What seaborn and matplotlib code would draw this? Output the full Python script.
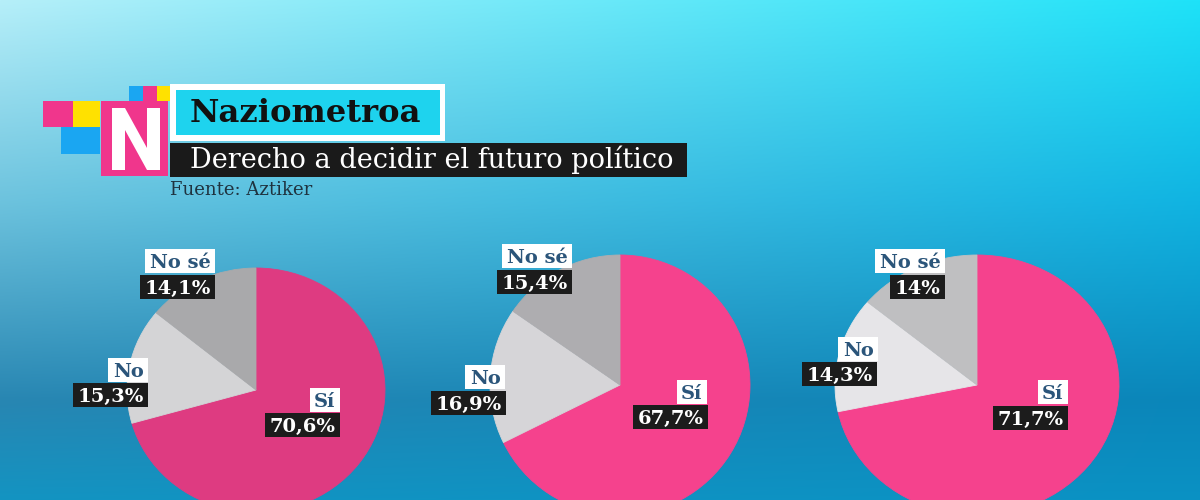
import numpy as np
import matplotlib
matplotlib.use("Agg")
import matplotlib.pyplot as plt
from matplotlib.patches import Rectangle, Polygon
import seaborn as sns

sns.set_theme(style="white")

# ---------------- data ----------------
categories = ["Sí", "No", "No sé"]
pie1_values = [70.6, 15.3, 14.1]
pie2_values = [67.7, 16.9, 15.4]
pie3_values = [71.7, 14.3, 14.0]
title_text = "Naziometroa"
subtitle_text = "Derecho a decidir el futuro político"
source_text = "Fuente: Aztiker"

all_values = [pie1_values, pie2_values, pie3_values]

# ---------------- style / layout ----------------
W, H = 1200, 500
pie_colors = [
    ["#DE3B81", "#D4D4D6", "#A9A9AB"],
    ["#F5428D", "#D6D5D8", "#AEADB0"],
    ["#F5428D", "#E6E5E8", "#BFBFC1"],
]
# (cx, cy, rx, ry) in pixels
pie_geom = [(256, 390, 129, 122), (620, 385, 130, 130), (977, 385, 142, 130)]
# label anchors: category -> (cat_right, cat_cy, pct_right, pct_cy)
label_pos = [
    {"No sé": (215, 261, 215, 287), "No": (148, 370, 148, 395), "Sí": (340, 400, 340, 425)},
    {"No sé": (572, 256, 572, 282), "No": (505, 377, 506, 403), "Sí": (707, 392, 708, 417)},
    {"No sé": (945, 261, 945, 287), "No": (878, 349, 877, 374), "Sí": (1068, 392, 1068, 418)},
]

fig = plt.figure(figsize=(12, 5), dpi=100)
renderer = fig.canvas.get_renderer()

# background gradient
def hex2rgb(h):
    h = h.lstrip("#")
    return np.array([int(h[i:i + 2], 16) for i in (0, 2, 4)]) / 255.0

rows = np.array([0, 200, 400, 500])
left_cols = np.array([hex2rgb(c) for c in ["#B6EFF9", "#6DC3DE", "#2886B2", "#1394C2"]])
right_cols = np.array([hex2rgb(c) for c in ["#1EE2F8", "#10B4E2", "#0A86BA", "#0A92C4"]])
yy = np.arange(H)
L = np.stack([np.interp(yy, rows, left_cols[:, k]) for k in range(3)], axis=1)
R = np.stack([np.interp(yy, rows, right_cols[:, k]) for k in range(3)], axis=1)
t = np.linspace(0, 1, W)[None, :, None]
img = L[:, None, :] * (1 - t) + R[:, None, :] * t

ax_bg = fig.add_axes([0, 0, 1, 1])
ax_bg.imshow(img, extent=(0, W, H, 0), aspect="auto", interpolation="bilinear")
ax_bg.set_xlim(0, W)
ax_bg.set_ylim(H, 0)
ax_bg.axis("off")

# pies
for vals, cols, (cx, cy, rx, ry) in zip(all_values, pie_colors, pie_geom):
    pax = fig.add_axes([(cx - rx) / W, (H - cy - ry) / H, 2 * rx / W, 2 * ry / H])
    pax.pie(vals, colors=cols, startangle=90, counterclock=False, radius=1,
            wedgeprops=dict(linewidth=0.6))
    for w, c in zip(pax.patches, cols):
        w.set_edgecolor(c)
    pax.set_aspect("auto")
    pax.set_xlim(-1, 1)
    pax.set_ylim(-1, 1)
    pax.axis("off")

# overlay for text & logo
ax = fig.add_axes([0, 0, 1, 1], facecolor="none")
ax.set_xlim(0, W)
ax.set_ylim(H, 0)
ax.axis("off")

LABEL_FS = 14
CAP = 0.729 * LABEL_FS * 100 / 72  # cap height in px
BOX_H = 24
PADX = 4.5


def fmt(v):
    return f"{v:g}".replace(".", ",") + "%"


def boxed(right, cy, s, fc, tc):
    txt = ax.text(right - PADX, cy + CAP / 2, s, ha="right", va="baseline", color=tc,
                  family=["DejaVu Serif"], fontweight="bold", fontsize=LABEL_FS, zorder=5)
    wpx = txt.get_window_extent(renderer).width
    ax.add_patch(Rectangle((right - wpx - 2 * PADX, cy - BOX_H / 2), wpx + 2 * PADX, BOX_H,
                           fc=fc, ec="none", zorder=4))


for vals, pos in zip(all_values, label_pos):
    for cat, v in zip(categories, vals):
        cr, cc, pr, pc = pos[cat]
        boxed(cr, cc, cat, "white", "#2B557A")
        boxed(pr, pc, fmt(v), "#1C1C1C", "white")

# logo
def rect(x0, y0, x1, y1, c):
    ax.add_patch(Rectangle((x0, y0), x1 - x0, y1 - y0, fc=c, ec="none"))

pink, yellow, blue = "#F0368C", "#FFE100", "#1AA6F2"
rect(43, 101, 73, 127, pink)
rect(73, 101, 100, 127, yellow)
rect(61, 127, 100, 154, blue)
rect(129, 86, 143, 101, blue)
rect(143, 86, 157, 101, pink)
rect(157, 86, 170, 101, yellow)
rect(101, 101, 168, 176, pink)
ax.add_patch(Polygon([(112, 170), (112, 108), (125, 108), (147, 148), (147, 108),
                      (160, 108), (160, 170), (147, 170), (125, 130), (125, 170)],
                     closed=True, fc="white", ec="none"))
rect(170, 84, 445, 141, "white")
rect(176, 90, 440, 135, "#1ED3EE")
ax.text(190, 113, title_text, ha="left", va="center", color="#111111",
        family=["DejaVu Serif"], fontweight="bold", fontsize=23.2)
rect(170, 143, 687, 177, "#1A1A1A")
ax.text(190, 160, subtitle_text, ha="left", va="center", color="white",
        family=["DejaVu Serif"], fontsize=19.5)
ax.text(170, 190, source_text, ha="left", va="center", color="#1F3340",
        family=["DejaVu Serif"], fontsize=13)

fig.savefig("out.png", dpi=100)
